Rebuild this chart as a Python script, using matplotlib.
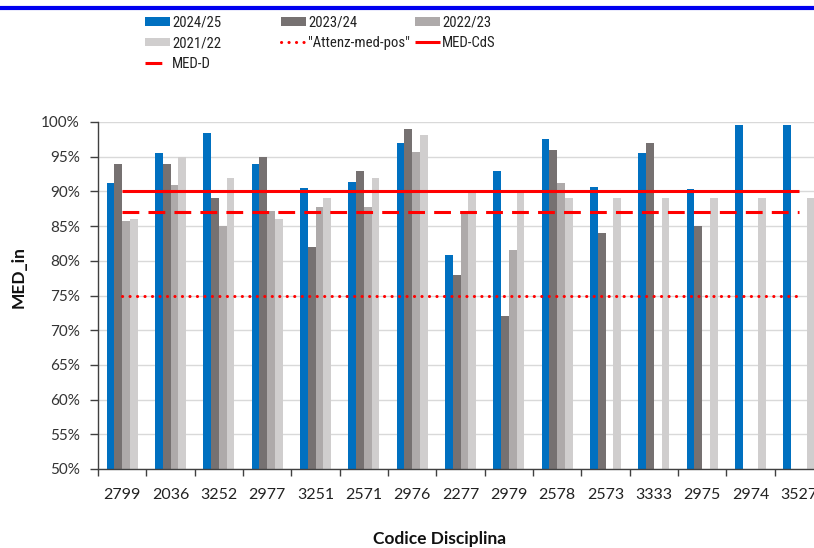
import numpy as np
import matplotlib
matplotlib.use("Agg")
import matplotlib.pyplot as plt
from matplotlib import font_manager as fm
from matplotlib.lines import Line2D
from matplotlib.ticker import PercentFormatter, FixedLocator, NullFormatter

plt.rcParams['font.family'] = ['Lato', 'DejaVu Sans']

categories = ["2799", "2036", "3252", "2977", "3251", "2571", "2976", "2277",
              "2979", "2578", "2573", "3333", "2975", "2974", "3527"]
nan = np.nan
v_2024_25 = [91.2, 95.6, 98.4, 93.9, 90.5, 91.4, 97.0, 80.9, 92.9, 97.5, 90.6, 95.5, 90.3, 99.5, 99.6]
v_2023_24 = [94.0, 94.0, 89.0, 95.0, 82.0, 93.0, 99.0, 78.0, 72.0, 96.0, 84.0, 97.0, 85.0, nan, nan]
v_2022_23 = [85.7, 90.9, 85.0, 87.2, 87.8, 87.7, 95.7, 86.7, 81.5, 91.2, nan, nan, nan, nan, nan]
v_2021_22 = [86.0, 95.0, 92.0, 86.0, 89.0, 92.0, 98.1, 89.8, 89.8, 89.0, 89.0, 89.0, 89.0, 89.0, 89.0]
attenz_med_pos = 75.0
med_cds = 90.0
med_d = 87.0

series = [("2024/25", v_2024_25, "#0070C0"),
          ("2023/24", v_2023_24, "#767171"),
          ("2022/23", v_2022_23, "#AEAAAA"),
          ("2021/22", v_2021_22, "#D0CECE")]

# pick a narrow font for the legend if one is installed
installed = {f.name for f in fm.fontManager.ttflist}
narrow_pref = ['Liberation Sans Narrow', 'DejaVu Sans Condensed', 'Roboto Condensed',
               'Open Sans Condensed', 'Noto Sans Condensed']
leg_family, leg_size, leg_sp = 'Lato', 9.6, 0.5
for nm in narrow_pref:
    if nm in installed:
        leg_family, leg_size, leg_sp = nm, 10.6, 0.45
        break

W, H = 814, 548
fig = plt.figure(figsize=(W / 100, H / 100), dpi=100)
ax = fig.add_axes([98 / W, (H - 469) / H, 725 / W, 347 / H])

n = len(categories)
x = np.arange(n)
bw = 0.16
offsets = [-1.5 * bw, -0.5 * bw, 0.5 * bw, 1.5 * bw]
bar_handles = {}
for (lab, vals, col), off in zip(series, offsets):
    h = ax.bar(x + off, np.array(vals) / 100, width=bw, color=col, linewidth=0, zorder=2)
    bar_handles[lab] = h

lw = 2.2
l_att, = ax.plot(x, np.full(n, attenz_med_pos) / 100, color="#FF0000", lw=lw,
                 linestyle=(0, (0.05, 2.4)), dash_capstyle='round', zorder=3)
l_cds, = ax.plot(x, np.full(n, med_cds) / 100, color="#FF0000", lw=lw,
                 solid_capstyle='butt', zorder=3)
l_d, = ax.plot(x, np.full(n, med_d) / 100, color="#FF0000", lw=lw,
               linestyle=(0, (5.5, 3.0)), zorder=3)

ax.set_xlim(-0.5, n - 0.5)
ax.set_ylim(0.5, 1.0)
ax.set_yticks(np.arange(0.5, 1.0001, 0.05))
ax.yaxis.set_major_formatter(PercentFormatter(1.0, decimals=0))
ax.grid(axis='y', color="#D9D9D9", lw=1.0, zorder=0)
ax.set_axisbelow(True)

ax.set_xticks(x)
ax.set_xticklabels(categories)
ax.xaxis.set_minor_locator(FixedLocator(np.arange(-0.5, n, 1.0)))
ax.xaxis.set_minor_formatter(NullFormatter())
ax.tick_params(axis='x', which='major', length=0, pad=14, labelsize=11.5, labelcolor="#222222")
ax.tick_params(axis='x', which='minor', length=5, width=1, color="#404040")
ax.tick_params(axis='y', length=6, width=1, color="#404040", pad=7, labelsize=11, labelcolor="#333333")

for s in ['top', 'right']:
    ax.spines[s].set_visible(False)
for s in ['left', 'bottom']:
    ax.spines[s].set_color("#404040")
    ax.spines[s].set_linewidth(1.0)

ax.set_ylabel("MED_in", fontsize=12.5, fontweight='bold', color="#111111")
ax.yaxis.set_label_coords(-71 / 725, 0.553)
ax.set_xlabel("Codice Disciplina", fontsize=12.5, fontweight='bold', color="#111111")
ax.xaxis.set_label_coords((440 - 98) / 725, -0.178)

leg_kw = dict(frameon=False, handlelength=25 / (leg_size * 1.389), handleheight=8 / (leg_size * 1.389),
              handletextpad=0.15, labelspacing=leg_sp, borderpad=0, borderaxespad=0,
              loc='upper left', labelcolor="#222222",
              prop={'family': [leg_family, 'Lato', 'DejaVu Sans'], 'size': leg_size})
cols = [
    ([bar_handles["2024/25"], bar_handles["2021/22"], l_d], ["2024/25", "2021/22", "MED-D"], 145),
    ([bar_handles["2023/24"], l_att], ["2023/24", '"Attenz-med-pos"'], 281),
    ([bar_handles["2022/23"], l_cds], ["2022/23", "MED-CdS"], 415),
]
for hs, ls, px in cols:
    fig.legend(hs, ls, bbox_to_anchor=(px / W, 1 - 15.5 / H), **leg_kw)

fig.add_artist(Line2D([0, 1], [1 - 7.5 / H, 1 - 7.5 / H], transform=fig.transFigure,
                      color="#0000F0", lw=3.0))

fig.savefig("out.png", dpi=100)
